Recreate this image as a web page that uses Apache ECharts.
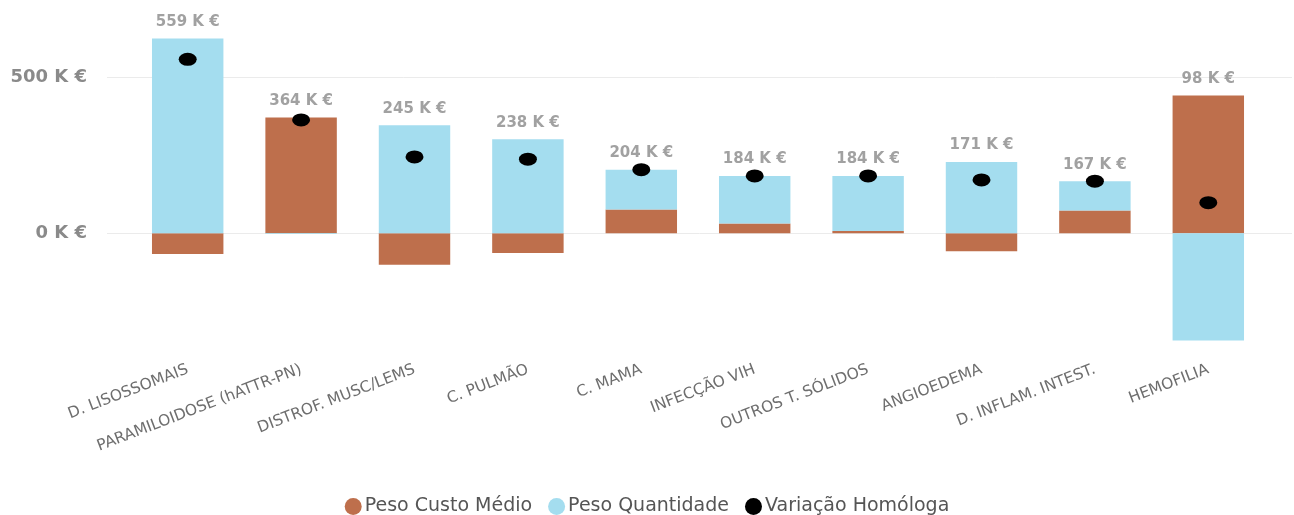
<!DOCTYPE html>
<html>
<head>
<meta charset="utf-8">
<script src="https://cdn.jsdelivr.net/npm/echarts@6/dist/echarts.min.js"></script>
<style>html,body{margin:0;padding:0;background:#fff}#c{width:1294px;height:515px}</style>
</head>
<body>
<div id="c"></div>
<script>
const categories = ['D. LISOSSOMAIS','PARAMILOIDOSE (hATTR-PN)','DISTROF. MUSC/LEMS','C. PULMÃO','C. MAMA','INFECÇÃO VIH','OUTROS T. SÓLIDOS','ANGIOEDEMA','D. INFLAM. INTEST.','HEMOFILIA'];
const pesoCustoMedio = [-67, 372, -102, -64, 76, 31, 7, -58, 73, 443];
const pesoQuantidade = [626, -3, 347, 302, 128, 153, 177, 229, 94, -345];
const variacaoHomologa = [559, 364, 245, 238, 204, 184, 184, 171, 167, 98];
const yTickValues = [0, 500];

const positiveTop = categories.map((c, i) => Math.max(0, pesoCustoMedio[i]) + Math.max(0, pesoQuantidade[i]));
const fmtK = v => v + ' K €';

const chart = echarts.init(document.getElementById('c'), null, {renderer: 'canvas'});
const YMIN = -350, YMAX = 650;
chart.setOption({
  animation: false,
  grid: [
    {left: 107, right: 2, top: 31, bottom: 173},
    {left: 131, right: 29, top: 31, bottom: 173}
  ],
  xAxis: [
    {gridIndex: 0, type: 'value', show: false, min: 0, max: 1},
    {gridIndex: 1, type: 'category', data: categories,
     axisLine: {show: false, onZero: false}, axisTick: {show: false},
     axisLabel: {rotate: 21, margin: 27, color: '#6e6e6e', fontFamily: 'DejaVu Sans', fontSize: 15.5, interval: 0}}
  ],
  yAxis: [
    {gridIndex: 0, type: 'value', min: YMIN, max: YMAX,
     axisLine: {show: false},
     axisTick: {show: false, customValues: yTickValues},
     axisLabel: {customValues: yTickValues, formatter: fmtK, color: '#8a8a8a', fontSize: 18, fontWeight: 'bold', fontFamily: 'DejaVu Sans', margin: 20},
     splitLine: {show: true, lineStyle: {color: '#ebebeb', width: 1}}},
    {gridIndex: 1, type: 'value', min: YMIN, max: YMAX, show: false, splitLine: {show: false}}
  ],
  legend: {
    top: 497, left: 'center', padding: 0,
    data: ['Peso Custo Médio', 'Peso Quantidade', 'Variação Homóloga'],
    icon: 'circle', itemWidth: 17, itemHeight: 17, itemGap: 16,
    textStyle: {color: '#555', fontSize: 19, fontFamily: 'DejaVu Sans', padding: [0,0,0,-2]}
  },
  series: [
    {name: 'Peso Custo Médio', type: 'bar', stack: 's', xAxisIndex: 1, yAxisIndex: 1,
     data: pesoCustoMedio, barCategoryGap: '37%', itemStyle: {color: '#BE6F4C'}},
    {name: 'Peso Quantidade', type: 'bar', stack: 's', xAxisIndex: 1, yAxisIndex: 1,
     data: pesoQuantidade, barCategoryGap: '37%', itemStyle: {color: '#A4DDEF'}},
    {name: 'totalLabel', type: 'scatter', xAxisIndex: 1, yAxisIndex: 1, symbolSize: 0, silent: true,
     data: positiveTop,
     label: {show: true, position: 'top', distance: 9, color: '#8a8a8a', fontSize: 15, fontWeight: 'bold', fontFamily: 'DejaVu Sans',
       formatter: p => fmtK(variacaoHomologa[p.dataIndex])}},
    {name: 'Variação Homóloga', type: 'scatter', xAxisIndex: 1, yAxisIndex: 1, z: 5,
     data: variacaoHomologa, symbol: 'circle', symbolSize: [18, 13], itemStyle: {color: '#000', opacity: 1}}
  ]
});
</script>
</body>
</html>
